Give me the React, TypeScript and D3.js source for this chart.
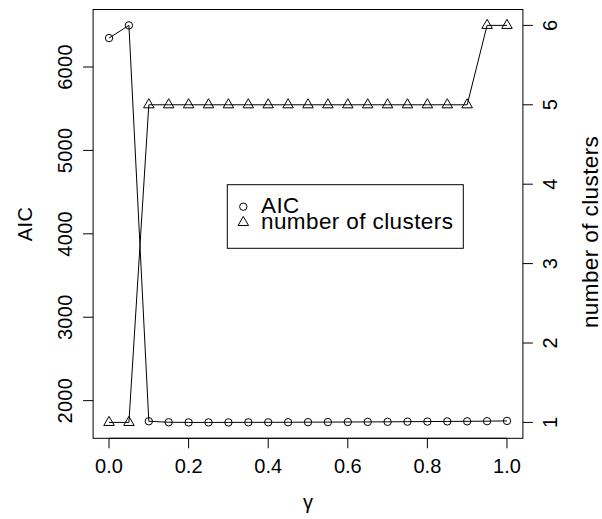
import React from "react";
import * as d3 from "d3";

const gammaValues = [0, 0.05, 0.1, 0.15, 0.2, 0.25, 0.3, 0.35, 0.4, 0.45, 0.5, 0.55, 0.6, 0.65, 0.7, 0.75, 0.8, 0.85, 0.9, 0.95, 1.0];
const aicValues = [6347, 6499, 1753, 1741, 1739, 1739, 1739, 1740, 1740, 1741, 1742, 1743, 1744, 1745, 1746, 1748, 1749, 1751, 1752, 1754, 1757];
const clusterValues = [1, 1, 5, 5, 5, 5, 5, 5, 5, 5, 5, 5, 5, 5, 5, 5, 5, 5, 5, 6, 6];
const xTicks = [0, 0.2, 0.4, 0.6, 0.8, 1.0];
const aicTicks = [2000, 3000, 4000, 5000, 6000];
const clusterTicks = [1, 2, 3, 4, 5, 6];
const legendLabels = ["AIC", "number of clusters"];

const W = 602, H = 519;
const L = 93.1, R = 522.9, T = 9.5, B = 438.3;
const FONT = "'Liberation Sans', Arial, Helvetica, sans-serif";
const FS = 20;
const FS_BIG = 22.5;

function expand(ext: [number, number]): [number, number] {
  const d = (ext[1] - ext[0]) * 0.04;
  return [ext[0] - d, ext[1] + d];
}

function triPath(cx: number, cy: number, s: number) {
  const h = s * 0.866;
  return `M${cx},${cy - h * 0.667}L${cx + s / 2},${cy + h * 0.333}L${cx - s / 2},${cy + h * 0.333}Z`;
}

export default function App() {
  const x = d3.scaleLinear().domain(expand(d3.extent(gammaValues) as [number, number])).range([L, R]);
  const yA = d3.scaleLinear().domain(expand(d3.extent(aicValues) as [number, number])).range([B, T]);
  const yC = d3.scaleLinear().domain(expand(d3.extent(clusterValues) as [number, number])).range([B, T]);

  const lineA = d3.line<number>().x((_, i) => x(gammaValues[i])).y((d) => yA(d));
  const lineC = d3.line<number>().x((_, i) => x(gammaValues[i])).y((d) => yC(d));

  const tick = 10;
  const midY = (T + B) / 2;

  return (
    <svg width={W} height={H} style={{ position: "absolute", left: 0, top: 0, background: "#fff" }} fontFamily={FONT} fontSize={FS}>
      <rect x={0} y={0} width={W} height={H} fill="#fff" />
      {/* series */}
      <path d={lineA(aicValues) || ""} fill="none" stroke="#000" strokeWidth={1} />
      <path d={lineC(clusterValues) || ""} fill="none" stroke="#000" strokeWidth={1} />
      {aicValues.map((v, i) => (
        <circle key={"a" + i} cx={x(gammaValues[i])} cy={yA(v)} r={3.7} fill="none" stroke="#000" strokeWidth={1} />
      ))}
      {clusterValues.map((v, i) => (
        <path key={"c" + i} d={triPath(x(gammaValues[i]), yC(v), 10.5)} fill="none" stroke="#000" strokeWidth={1} />
      ))}
      {/* box */}
      <rect x={L} y={T} width={R - L} height={B - T} fill="none" stroke="#000" strokeWidth={1} />
      {/* bottom axis */}
      <line x1={x(xTicks[0])} x2={x(xTicks[xTicks.length - 1])} y1={B} y2={B} stroke="#000" />
      {xTicks.map((t) => (
        <g key={"x" + t}>
          <line x1={x(t)} x2={x(t)} y1={B} y2={B + tick} stroke="#000" />
          <text x={x(t)} y={473.3} textAnchor="middle">{t.toFixed(1)}</text>
        </g>
      ))}
      {/* left axis */}
      {aicTicks.map((t) => (
        <g key={"l" + t}>
          <line x1={L - tick} x2={L} y1={yA(t)} y2={yA(t)} stroke="#000" />
          <text x={72} y={yA(t)} textAnchor="middle" letterSpacing={0.3} transform={`rotate(-90, 72, ${yA(t)})`}>{t}</text>
        </g>
      ))}
      {/* right axis */}
      {clusterTicks.map((t) => (
        <g key={"r" + t}>
          <line x1={R} x2={R + tick} y1={yC(t)} y2={yC(t)} stroke="#000" />
          <text x={557} y={yC(t)} textAnchor="middle" transform={`rotate(-90, 557, ${yC(t)})`}>{t}</text>
        </g>
      ))}
      {/* axis titles */}
      <text x={(x(0) + x(1)) / 2} y={508.5} textAnchor="middle">γ</text>
      <text x={31.7} y={midY} textAnchor="middle" letterSpacing={0.4} transform={`rotate(-90, 31.7, ${midY})`}>AIC</text>
      <text x={598} y={midY + 8} textAnchor="middle" fontSize={FS_BIG} letterSpacing={0.4} transform={`rotate(-90, 598, ${midY + 8})`}>number of clusters</text>
      {/* legend */}
      <rect x={227.3} y={184.7} width={236} height={63.6} fill="#fff" stroke="#000" strokeWidth={1} />
      <circle cx={243.3} cy={206.7} r={3.7} fill="none" stroke="#000" />
      <path d={triPath(243.3, 222.5, 10.5)} fill="none" stroke="#000" />
      <text x={261} y={213} fontSize={FS_BIG} letterSpacing={0.4}>{legendLabels[0]}</text>
      <text x={261} y={229} fontSize={FS_BIG} letterSpacing={0.4}>{legendLabels[1]}</text>
    </svg>
  );
}
